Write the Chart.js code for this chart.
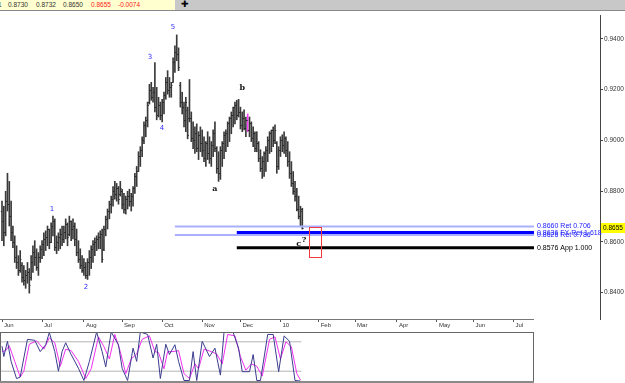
<!DOCTYPE html>
<html>
<head>
<meta charset="utf-8">
<script src="https://cdn.jsdelivr.net/npm/chart.js@4.4.0/dist/chart.umd.min.js"></script>
<style>
  body { margin: 0; background: #fff; width: 625px; height: 383px; overflow: hidden; position: relative; font-family: 'Liberation Sans', Arial, sans-serif; }
  #hdr { position: absolute; left: 0; top: 0; width: 625px; height: 10px; background: #c8c8c8; border-bottom: 1px solid #8a8a8a; }
  #quote { position: absolute; left: 0; top: 0; width: 175px; height: 10px; background: #ffffd0; font-size: 6.5px; line-height: 10px; color: #333; }
  #quote span { position: absolute; top: 0; }
  #quote .dn { color: #ff2020; }
  #cross { position: absolute; left: 181px; top: -1px; font-size: 9px; line-height: 11px; color: #000; }
  #pricebox { position: absolute; left: 0; top: 11px; width: 625px; height: 320px; }
  #oscbox { position: absolute; left: 0; top: 330px; width: 535px; height: 53px; }
</style>
</head>
<body>
<div id="hdr">
  <div id="quote">
    <span style="left:-2px">1</span>
    <span style="left:8px">0.8730</span>
    <span style="left:36px">0.8732</span>
    <span style="left:63px">0.8650</span>
    <span class="dn" style="left:91px">0.8655</span>
    <span class="dn" style="left:118px">-0.0074</span>
  </div>
  <div id="cross">&#10010;</div>
</div>
<div id="pricebox"><canvas id="priceChart"></canvas></div>
<div id="oscbox"><canvas id="oscChart"></canvas></div>

<script>
// daily bars, Jun 1 2009 -> mid Jan 2010 (index = trading day)
const highs = [.8760,.8740,.8799,.8870,.8838,.8760,.8662,.8623,.8584,.8545,
  .8565,.8518,.8506,.8487,.8518,.8494,.8545,.8584,.8604,.8572,
  .8557,.8584,.8604,.8635,.8643,.8662,.8650,.8674,.8701,.8690,
  .8623,.8635,.8650,.8662,.8662,.8690,.8674,.8701,.8682,.8690,
  .8674,.8650,.8604,.8572,.8545,.8533,.8518,.8533,.8565,.8584,
  .8604,.8615,.8623,.8635,.8643,.8650,.8662,.8701,.8729,.8760,
  .8780,.8818,.8838,.8830,.8818,.8838,.8807,.8791,.8780,.8799,
  .8807,.8791,.8818,.8870,.8897,.8955,.8975,.9014,.9073,.9092,
  .9151,.9221,.9229,.9209,.9307,.9209,.9170,.9151,.9162,.9190,
  .9248,.9275,.9248,.9229,.9326,.9373,.9416,.9365,.9229,.9190,
  .9151,.9170,.9131,.9240,.9112,.9073,.9053,.9065,.9034,.9053,
  .9041,.9014,.8995,.9034,.9014,.8995,.9041,.9073,.8975,.8955,
  .8975,.8995,.9034,.9041,.9073,.9092,.9112,.9131,.9151,.9158,
  .9162,.9131,.9112,.9120,.9092,.9104,.9092,.9073,.9053,.9034,
  .9034,.8995,.8963,.8936,.8955,.8975,.9014,.9034,.9041,.9053,
  .9061,.8995,.8975,.9014,.9022,.9034,.9014,.8995,.8955,.8916,
  .8877,.8838,.8811,.8780,.8740,.8732];
const lows = [.8604,.8584,.8623,.8721,.8662,.8604,.8576,.8518,.8494,.8467,
  .8479,.8440,.8428,.8416,.8436,.8397,.8448,.8479,.8506,.8487,
  .8467,.8518,.8533,.8545,.8565,.8584,.8572,.8596,.8623,.8565,
  .8553,.8565,.8572,.8584,.8596,.8611,.8584,.8623,.8604,.8611,
  .8584,.8545,.8518,.8494,.8479,.8467,.8455,.8451,.8467,.8494,
  .8518,.8545,.8565,.8572,.8572,.8518,.8565,.8623,.8650,.8690,
  .8713,.8740,.8768,.8760,.8748,.8780,.8729,.8713,.8709,.8729,
  .8740,.8721,.8740,.8791,.8818,.8877,.8897,.8936,.8987,.9014,
  .9053,.9143,.9158,.9151,.9112,.9081,.9092,.9081,.9073,.9104,
  .9162,.9182,.9170,.9170,.9229,.9268,.9314,.9275,.9131,.9104,
  .9053,.9034,.9006,.9073,.8995,.8967,.8948,.8955,.8924,.8955,
  .8936,.8916,.8897,.8924,.8909,.8897,.8936,.8955,.8870,.8838,
  .8846,.8897,.8928,.8955,.8975,.8995,.9026,.9053,.9065,.9081,
  .9092,.9045,.9034,.9041,.9014,.9034,.9014,.8995,.8975,.8955,
  .8955,.8916,.8877,.8850,.8858,.8877,.8916,.8948,.8955,.8975,
  .8987,.8870,.8885,.8936,.8955,.8948,.8936,.8897,.8850,.8818,
  .8787,.8760,.8721,.8690,.8662,.8650];
const opens = [.8720,.8680,.8640,.8760,.8750,.8700,.8640,.8600,.8540,.8520,
  .8490,.8510,.8460,.8450,.8470,.8480,.8460,.8520,.8560,.8540,
  .8500,.8540,.8570,.8590,.8610,.8620,.8650,.8600,.8660,.8680,
  .8580,.8600,.8620,.8630,.8610,.8640,.8670,.8630,.8680,.8650,
  .8660,.8610,.8560,.8530,.8510,.8490,.8500,.8470,.8520,.8540,
  .8570,.8590,.8600,.8610,.8620,.8630,.8570,.8650,.8690,.8720,
  .8750,.8770,.8800,.8790,.8810,.8790,.8800,.8750,.8730,.8770,
  .8780,.8760,.8780,.8810,.8860,.8880,.8940,.8960,.9000,.9060,
  .9080,.9150,.9200,.9170,.9190,.9130,.9100,.9140,.9100,.9150,
  .9180,.9230,.9200,.9210,.9230,.9310,.9350,.9340,.9220,.9150,
  .9130,.9080,.9120,.9090,.9090,.9010,.9000,.9030,.8970,.9020,
  .8990,.8960,.8930,.8990,.8950,.8930,.8980,.9030,.8970,.8890,
  .8870,.8960,.8990,.9020,.9030,.9070,.9090,.9100,.9130,.9140,
  .9100,.9110,.9060,.9090,.9050,.9080,.9040,.9070,.9010,.9030,
  .8970,.8990,.8930,.8890,.8920,.8950,.8960,.9000,.9030,.9040,
  .9000,.8990,.8900,.8960,.9000,.8980,.9010,.8960,.8920,.8870,
  .8830,.8800,.8780,.8730,.8700,.8730];
const closes = [.8680,.8640,.8760,.8750,.8700,.8640,.8600,.8540,.8520,.8490,
  .8530,.8460,.8450,.8470,.8480,.8430,.8520,.8560,.8540,.8500,
  .8540,.8570,.8590,.8610,.8620,.8650,.8600,.8660,.8680,.8580,
  .8600,.8620,.8630,.8610,.8640,.8670,.8620,.8680,.8650,.8660,
  .8610,.8560,.8530,.8510,.8490,.8500,.8470,.8520,.8540,.8570,
  .8590,.8600,.8610,.8620,.8630,.8530,.8650,.8690,.8720,.8750,
  .8770,.8800,.8790,.8810,.8770,.8810,.8750,.8730,.8770,.8780,
  .8760,.8780,.8810,.8860,.8880,.8940,.8960,.9000,.9060,.9080,
  .9140,.9200,.9170,.9190,.9130,.9100,.9140,.9100,.9150,.9180,
  .9230,.9200,.9210,.9220,.9310,.9350,.9340,.9290,.9150,.9130,
  .9080,.9150,.9020,.9090,.9010,.9000,.9030,.8970,.9020,.8990,
  .8960,.8930,.8990,.8950,.8930,.8980,.9030,.8970,.8890,.8870,
  .8960,.8990,.9020,.9030,.9070,.9090,.9100,.9130,.9140,.9100,
  .9110,.9060,.9090,.9050,.9080,.9040,.9070,.9010,.9030,.8970,
  .8990,.8930,.8890,.8920,.8950,.8960,.9000,.9030,.9040,.9000,
  .9040,.8900,.8960,.9000,.8980,.9010,.8960,.8920,.8870,.8830,
  .8800,.8780,.8730,.8700,.8720,.8655];
const markedBar = 135; // the one magenta bar

// month ticks (trading-day index of the first day of each month)
const monthIdx = [0, 22, 45, 66, 88, 110, 131, 153, 174, 194, 217, 239, 259, 281];
const monthLabels = ['Jun', 'Jul', 'Aug', 'Sep', 'Oct', 'Nov', 'Dec', '10', 'Feb', 'Mar', 'Apr', 'May', 'Jun', 'Jul'];
const priceTicks = [0.84, 0.86, 0.88, 0.90, 0.92, 0.94];

// projection lines: value, start index, label
const levelValues = [0.8660, 0.8636, 0.8626, 0.8576];
const levelStart = [95, 129, 95, 129];
const levelLabels = ['0.8660 Ret 0.706', '0.8636 FX Ret 1.618', '0.8626 Ret 0.786', '0.8576 App 1.000'];
const levelColors = ['#a9b0ff', '#0000ff', '#a9b0ff', '#000000'];
const levelWidths = [2, 3, 2, 3];
const levelEnd = 292.3;

// wave count labels
const waveText = ['1', '2', '3', '4', '5', 'a', 'b', 'c', '?'];
const waveX = [27.5, 46.2, 81.3, 87.9, 94, 117, 132, 163, 166];
const waveY = [0.8729, 0.8420, 0.9330, 0.9049, 0.9447, 0.8807, 0.9205, 0.8592, 0.8608];

// target box
const boxX = [168.7, 175.3];
const boxY = [0.8658, 0.8538];

// stochastic oscillator
const kIdx = [0,1,3,5,8,10,12,14,18,21,24,26,29,31,33,35,38,42,45,48,52,55,57,60,64,66,69,72,74,76,80,83,85,87,90,92,95,97,100,103,105,107,110,114,117,120,122,127,130,132,136,138,140,142,146,149,152,155,158,161,164];
const kVal = [71,50,81,40,5,8,47,85,83,60,74,99,60,20,60,78,54,26,1,40,100,60,29,100,74,26,1,67,40,100,95,47,75,5,75,54,74,40,1,1,60,1,81,50,67,12,100,99,67,19,19,54,1,1,95,95,19,92,81,1,0];
const dIdx = [0,2,4,7,10,12,15,19,23,26,29,32,35,38,42,46,49,53,56,59,62,65,68,71,74,77,81,84,86,89,91,94,97,100,103,106,108,111,115,118,121,124,128,131,134,137,140,143,147,150,153,156,159,162,164];
const dVal = [60,62,72,40,8,20,75,82,65,88,78,30,65,62,40,5,25,90,70,45,95,60,15,45,55,85,92,60,58,25,60,60,62,15,5,35,25,65,60,55,35,95,92,50,22,35,30,10,85,90,45,80,70,15,2];
const oscLevels = [80, 20];

const X_MIN = -1.1;
const PX_PER_DAY = 1.82;

Chart.defaults.font.family = "'Liberation Sans', Arial, sans-serif";
Chart.defaults.animation = false;

const barRange = highs.map((h, i) => ({ x: i, y: [lows[i], h] }));

const datasets = [
  {
    type: 'bar', data: barRange, grouped: false, order: 2,
    barThickness: 1,
    backgroundColor: highs.map((h, i) => i === markedBar ? '#ff40ff' : '#3a3a3a')
  }
];
levelValues.forEach((v, i) => {
  datasets.push({
    type: 'line', order: 1,
    data: [{ x: levelStart[i], y: v }, { x: levelEnd, y: v }],
    borderColor: levelColors[i], borderWidth: levelWidths[i],
    pointRadius: 0
  });
});

const overlay = {
  id: 'overlay',
  afterDatasetsDraw(chart) {
    const { ctx, scales: { x, y } } = chart;
    ctx.save();
    // open / close ticks
    ctx.strokeStyle = '#2a2a2a';
    ctx.lineWidth = 1;
    ctx.beginPath();
    for (let i = 0; i < closes.length; i++) {
      const px = x.getPixelForValue(i);
      const yo = Math.round(y.getPixelForValue(opens[i])) + 0.5;
      const yc = Math.round(y.getPixelForValue(closes[i])) + 0.5;
      ctx.moveTo(px - 1.2, yo); ctx.lineTo(px, yo);
      ctx.moveTo(px, yc); ctx.lineTo(px + 1.2, yc);
    }
    ctx.stroke();

    // target box
    ctx.strokeStyle = '#f03c3c';
    ctx.lineWidth = 1;
    const bx0 = Math.round(x.getPixelForValue(boxX[0])) + 0.5;
    const bx1 = Math.round(x.getPixelForValue(boxX[1])) + 0.5;
    const by0 = Math.round(y.getPixelForValue(boxY[0])) + 0.5;
    const by1 = Math.round(y.getPixelForValue(boxY[1])) + 0.5;
    ctx.strokeRect(bx0, by0, bx1 - bx0, by1 - by0);

    // level labels
    ctx.font = "7px 'Liberation Sans', Arial, sans-serif";
    ctx.textBaseline = 'middle';
    ctx.textAlign = 'left';
    const lx = x.getPixelForValue(levelEnd) + 3;
    levelValues.forEach((v, i) => {
      ctx.fillStyle = i === 3 ? '#000' : '#2020ff';
      ctx.fillText(levelLabels[i], lx, y.getPixelForValue(v));
    });

    // wave labels
    ctx.textAlign = 'center';
    waveText.forEach((t, i) => {
      const blue = i < 5;
      ctx.font = blue ? "7px 'DejaVu Sans', sans-serif" : "bold 8px 'DejaVu Serif', serif";
      ctx.fillStyle = blue ? '#3030ff' : '#111';
      ctx.fillText(t, x.getPixelForValue(waveX[i]), y.getPixelForValue(waveY[i]));
    });

    // date axis line (only under the dated part)
    ctx.strokeStyle = '#777';
    ctx.lineWidth = 1;
    ctx.beginPath();
    const ab = chart.chartArea.bottom + 0.5;
    ctx.moveTo(0, ab); ctx.lineTo(x.getPixelForValue(levelEnd), ab);
    ctx.stroke();

    // last price flag on the right axis
    const last = closes[closes.length - 1];
    const ly = Math.round(y.getPixelForValue(last));
    ctx.fillStyle = '#ffff00';
    ctx.fillRect(chart.chartArea.right + 1, ly - 5, 24, 10);
    ctx.fillStyle = '#000';
    ctx.font = "6.5px 'Liberation Sans', Arial, sans-serif";
    ctx.textAlign = 'left';
    ctx.fillText(last.toFixed(4), chart.chartArea.right + 3, ly);
    ctx.restore();
  }
};

new Chart(document.getElementById('priceChart'), {
  data: { datasets: datasets },
  options: {
    responsive: true,
    maintainAspectRatio: false,
    events: [],
    layout: { padding: { top: 2, left: 0, right: 0, bottom: 0 } },
    plugins: { legend: { display: false }, tooltip: { enabled: false } },
    scales: {
      x: {
        type: 'linear', offset: false, min: X_MIN, max: X_MIN + 600 / PX_PER_DAY,
        afterBuildTicks: s => { s.ticks = monthIdx.map(v => ({ value: v })); },
        afterFit: s => { s.height = 12; },
        ticks: {
          autoSkip: false, maxRotation: 0, align: 'start', labelOffset: 2, padding: 0,
          font: { size: 6 }, color: '#333',
          callback: (v, i) => monthLabels[i]
        },
        grid: { offset: false, drawOnChartArea: false, tickLength: 3, color: '#555' },
        border: { display: false }
      },
      y: {
        type: 'linear', position: 'right', min: 0.8295, max: 0.9491,
        afterBuildTicks: s => { s.ticks = priceTicks.map(v => ({ value: v })); },
        afterFit: s => { s.width = 25; },
        ticks: { font: { size: 6.5 }, color: '#333', padding: 1, callback: v => v.toFixed(4) },
        grid: { drawOnChartArea: false, tickLength: 3, color: '#444' },
        border: { display: true, color: '#444', width: 1 }
      }
    }
  },
  plugins: [overlay]
});

// ---- oscillator panel ----
const oscDatasets = [
  { data: kIdx.map((v, i) => ({ x: v, y: kVal[i] })), borderColor: '#3b3b8f', borderWidth: 1, pointRadius: 0 },
  { data: dIdx.map((v, i) => ({ x: v, y: dVal[i] })), borderColor: '#f030f0', borderWidth: 1, pointRadius: 0 }
];
oscLevels.forEach(v => {
  oscDatasets.push({ data: [{ x: X_MIN, y: v }, { x: 164.5, y: v }], borderColor: '#b4b4b4', borderWidth: 1, pointRadius: 0 });
});

const frame = {
  id: 'frame',
  afterDraw(chart) {
    const { ctx, chartArea: a } = chart;
    ctx.save();
    ctx.strokeStyle = '#666';
    ctx.lineWidth = 1;
    ctx.strokeRect(a.left + 0.5, a.top + 0.5, a.width - 1, a.height);
    ctx.strokeStyle = '#8a8a8a';
    ctx.lineWidth = 2;
    ctx.beginPath();
    ctx.moveTo(a.left, a.bottom + 1); ctx.lineTo(a.right, a.bottom + 1);
    ctx.stroke();
    ctx.restore();
  }
};

new Chart(document.getElementById('oscChart'), {
  type: 'line',
  data: { datasets: oscDatasets },
  options: {
    responsive: true,
    maintainAspectRatio: false,
    events: [],
    layout: { padding: { top: 2, bottom: 2, left: 0, right: 1 } },
    plugins: { legend: { display: false }, tooltip: { enabled: false } },
    scales: {
      x: { type: 'linear', display: false, min: X_MIN, max: X_MIN + 534 / PX_PER_DAY },
      y: { display: false, min: 0, max: 100 }
    }
  },
  plugins: [frame]
});
</script>
</body>
</html>
